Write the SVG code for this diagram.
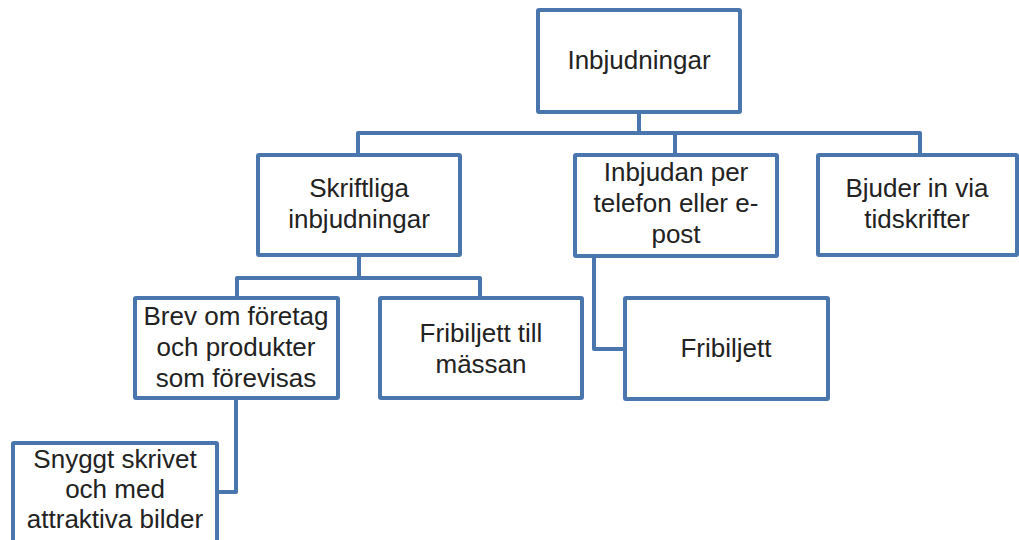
<svg xmlns="http://www.w3.org/2000/svg" width="1019" height="540" viewBox="0 0 1019 540">
<style>
.box{fill:#fff;stroke:#4a76ae;stroke-width:4;stroke-linejoin:round}
.con{fill:none;stroke:#4a76ae;stroke-width:4;stroke-linejoin:round}
text{font-family:"Liberation Sans",Arial,sans-serif;font-size:26px;fill:#222;text-anchor:middle}
</style>
<rect width="1019" height="540" fill="#fff"/>
<g id="connectors">
<path class="con" d="M639 112 V133"/>
<path class="con" d="M358 155 V133 H920 V155"/>
<path class="con" d="M675 133 V155"/>
<path class="con" d="M359 255 V278"/>
<path class="con" d="M237 298 V278 H480 V298"/>
<path class="con" d="M594 257 V349 H625"/>
<path class="con" d="M236 398 V492 H217"/>
</g>
<g id="n-root"><rect class="box" x="538" y="10" width="202" height="102" rx="1"/><text x="639" y="69">Inbjudningar</text></g>
<g id="n-skriftliga"><rect class="box" x="258" y="155" width="202" height="100" rx="1"/><text x="359" y="197">Skriftliga</text><text x="359" y="228">inbjudningar</text></g>
<g id="n-inbjudan"><rect class="box" x="575" y="155" width="202" height="101" rx="1"/><text x="676" y="181">Inbjudan per</text><text x="676" y="212">telefon eller  e-</text><text x="676" y="243">post</text></g>
<g id="n-bjuder"><rect class="box" x="818" y="155" width="199" height="100" rx="1"/><text x="917" y="197">Bjuder in via</text><text x="917" y="228">tidskrifter</text></g>
<g id="n-brev"><rect class="box" x="135" y="298" width="203" height="100" rx="1"/><text x="236" y="325">Brev om företag</text><text x="236" y="356">och produkter</text><text x="236" y="387">som förevisas</text></g>
<g id="n-fribiljett-till"><rect class="box" x="380" y="298" width="202" height="100" rx="1"/><text x="481" y="342">Fribiljett till</text><text x="481" y="373">mässan</text></g>
<g id="n-fribiljett"><rect class="box" x="625" y="298" width="203" height="101" rx="1"/><text x="726" y="357">Fribiljett</text></g>
<g id="n-snyggt"><rect class="box" x="13" y="443" width="204" height="101" rx="1"/><text x="115" y="468">Snyggt skrivet</text><text x="115" y="498">och med</text><text x="115" y="528">attraktiva bilder</text></g>
</svg>
